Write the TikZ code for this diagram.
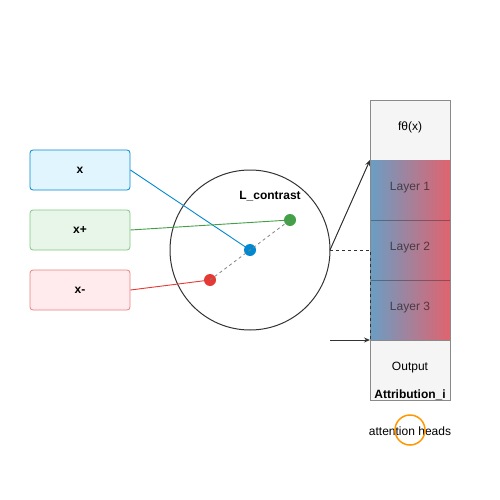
\documentclass[tikz,border=0pt]{standalone}
\usepackage{fontspec}
\setmainfont{Liberation Sans}
\usetikzlibrary{arrows.meta}
\definecolor{xfill}{HTML}{E1F5FE}
\definecolor{xdraw}{HTML}{0288D1}
\definecolor{pfill}{HTML}{E8F5E9}
\definecolor{pdraw}{HTML}{81C784}
\definecolor{nfill}{HTML}{FFEBEE}
\definecolor{ndraw}{HTML}{EF7F7F}
\definecolor{blued}{HTML}{0288D1}
\definecolor{greend}{HTML}{43A047}
\definecolor{redd}{HTML}{E53935}
\definecolor{gleft}{HTML}{6A9EC4}
\definecolor{gright}{HTML}{E0636F}
\definecolor{boxgray}{HTML}{F5F5F5}
\definecolor{edgegray}{HTML}{8A8A8A}
\definecolor{darkl}{HTML}{333333}
\definecolor{orng}{HTML}{FF9800}
\tikzset{
  inbox/.style={rounded corners=3pt, line width=0.8pt, minimum width=100pt, minimum height=40pt, font=\bfseries\fontsize{12}{14}\selectfont, inner sep=0pt},
  dot/.style={circle, inner sep=0pt, minimum size=12pt},
  lbl/.style={font=\fontsize{12}{14}\selectfont},
  cell/.style={minimum width=80pt, minimum height=60pt, inner sep=0pt, anchor=north west},
  celltxt/.style={lbl, text=black, text opacity=0.55},
  conn/.style={line width=0.9pt},
}
\begin{document}
\begin{tikzpicture}[x=1pt,y=-1pt]
\useasboundingbox (0,0) rectangle (500,500);
% input boxes
\node[inbox, fill=xfill, draw=xdraw] (x) at (80,170) {x};
\node[inbox, fill=pfill, draw=pdraw] (xp) at (80,230) {x+};
\node[inbox, fill=nfill, draw=ndraw] (xn) at (80,290) {x-};
% circle
\node[circle, draw=darkl, line width=1pt, minimum size=160pt, inner sep=0pt] (C) at (250,250) {};
\node[font=\bfseries\fontsize{12}{14}\selectfont] (lc) at (270,196) {L\_contrast};
% dots
\node[dot, fill=blued] (a) at (250,250) {};
\node[dot, fill=greend] (p) at (290,220) {};
\node[dot, fill=redd] (n) at (210,280) {};
\draw[conn, blued] (x.east) -- (a.center);
\draw[conn, greend] (xp.east) -- (p.center);
\draw[conn, redd] (xn.east) -- (n.center);
\draw[gray, dashed, line width=0.8pt] (n.center) -- (p.center);
% model stack
\node[draw=edgegray, fill=boxgray, line width=1pt, cell] (top) at (370,100) {};
\node[lbl] (toptxt) at (410,127.5) {fθ(x)};
\shade[left color=gleft, right color=gright] (370,160) rectangle (450,340);
\node[cell] (l1) at (370,160) {};
\node[cell] (l2) at (370,220) {};
\node[cell] (l3) at (370,280) {};
\node[celltxt] (l1t) at (410,187.5) {Layer 1};
\node[celltxt] (l2t) at (410,247.5) {Layer 2};
\node[celltxt] (l3t) at (410,307.5) {Layer 3};
\draw[black, opacity=0.3, line width=1.2pt] (l1.south west) -- (l1.south east);
\draw[black, opacity=0.3, line width=1.2pt] (l2.south west) -- (l2.south east);
\draw[edgegray, line width=1pt] (l1.north west) -- (l3.south west) (l1.north east) -- (l3.south east);
\node[draw=edgegray, fill=boxgray, line width=1pt, cell] (out) at (370,340) {};
\node[lbl] (outt) at (410,367.5) {Output};
\node[font=\bfseries\fontsize{12}{14}\selectfont] (attr) at (410,395) {Attribution\_i};
% connectors
\coordinate (cr) at (330,250);
\coordinate (cb) at (330,340);
\draw[darkl, line width=1pt, -{Stealth[length=6pt,width=5pt]}] (cr) -- (l1.north west);
\draw[darkl, line width=1pt, dashed] (cr) -- (l2.west |- cr) -- (l3.south west);
\draw[darkl, line width=1pt, -{Stealth[length=6pt,width=5pt]}] (cb) -- (out.north west);
% attention heads
\node[lbl] (ah) at (410,431) {attention heads};
\node[circle, draw=orng, line width=1.5pt, minimum size=30pt, inner sep=0pt] (oc) at (410,430) {};
\end{tikzpicture}
\end{document}
